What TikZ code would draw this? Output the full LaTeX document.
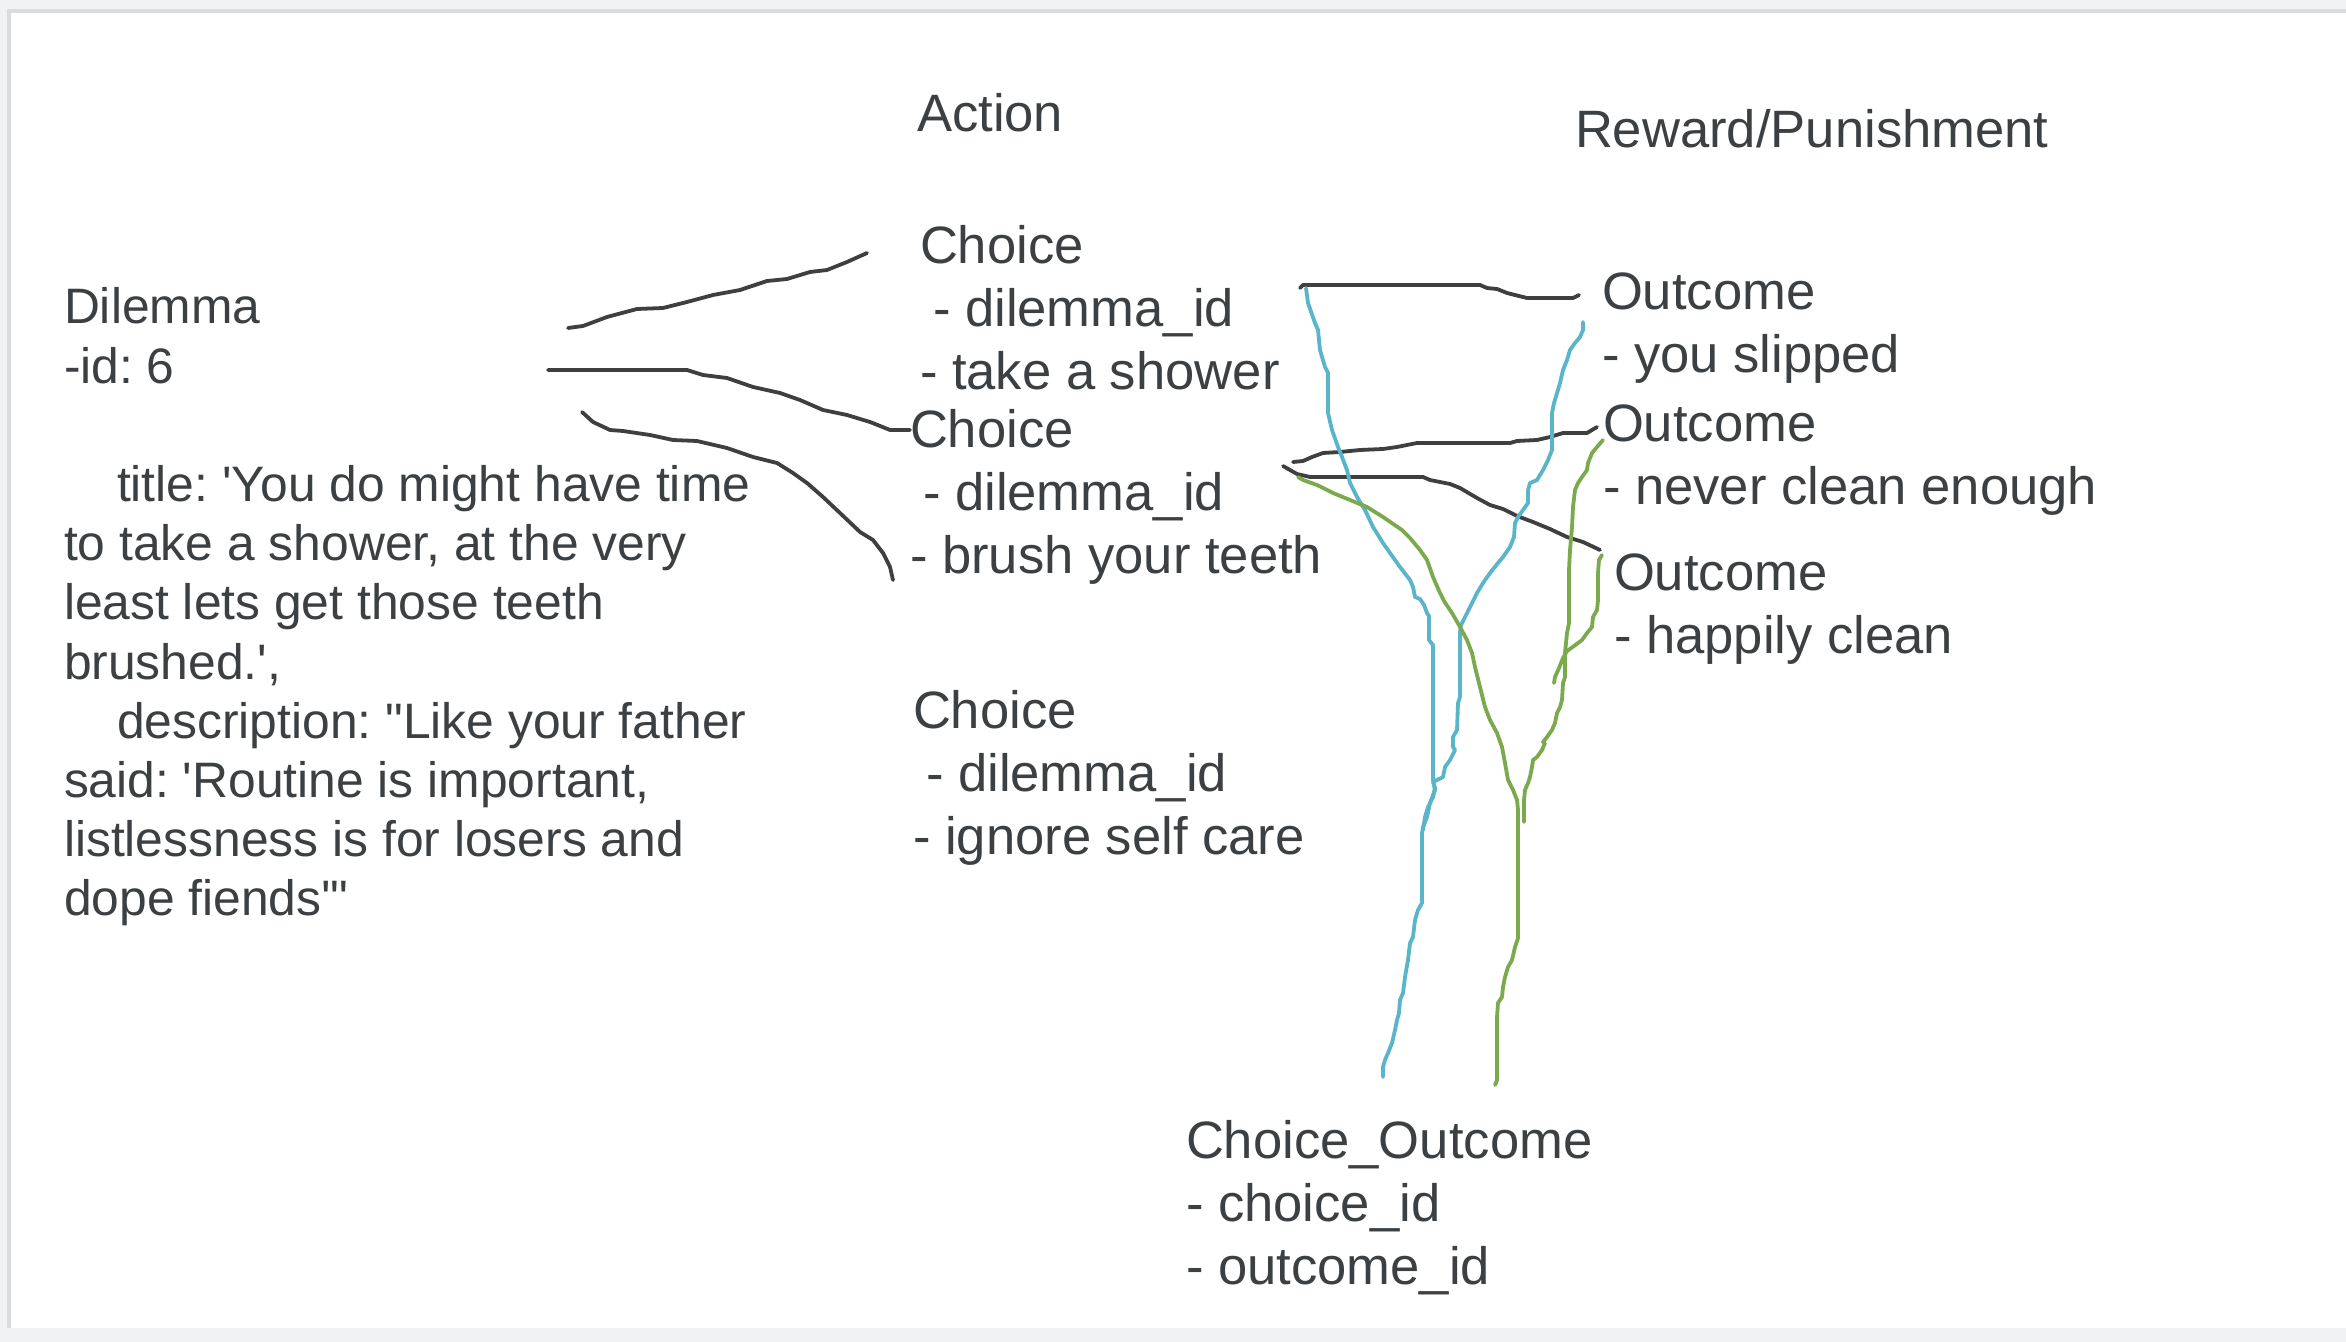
\documentclass[tikz,border=0pt]{standalone}
\usepackage{fontspec}
\newfontfamily\gd{Liberation Sans}
\frenchspacing
\definecolor{txt}{HTML}{3C4043}
\definecolor{ink}{HTML}{3F3F3F}
\definecolor{blu}{HTML}{5AB4CA}
\definecolor{grn}{HTML}{7BAA4E}
\definecolor{pagebg}{HTML}{F1F2F4}
\definecolor{edge}{HTML}{DADBDE}
\newcommand{\rowsA}[1]{{\gd\frenchspacing\fontsize{26.3}{31.5}\selectfont\begin{tabular}[t]{@{}l@{}}#1\end{tabular}}}
\newcommand{\rowsB}[1]{{\gd\frenchspacing\fontsize{24.9}{29.6}\selectfont\begin{tabular}[t]{@{}l@{}}#1\end{tabular}}}
\tikzset{
  lbl/.style={anchor=base west, inner sep=0pt, outer sep=0pt, text=txt, font=\gd\frenchspacing\fontsize{26.3}{31.5}\selectfont},
  inkline/.style={draw=ink, line width=1.9pt, line join=round, line cap=round},
  blueline/.style={draw=blu, line width=1.9pt, line join=round, line cap=round},
  greenline/.style={draw=grn, line width=1.9pt, line join=round, line cap=round}
}
\begin{document}
\begin{tikzpicture}[x=0.5pt,y=-0.5pt]
\useasboundingbox (0,0) rectangle (2346,1342);
\fill[pagebg] (0,0) rectangle (2346,1342);
\fill[edge] (7,9) rectangle (2346,1328);
\fill[white] (11,13) rectangle (2346,1328);

% headings
\node[lbl] (action) at (917,132) {Action};
\node[lbl] (reward) at (1575,148) {Reward/Punishment};

% dilemma
\node[lbl] (dilemma) at (64,324) {\rowsB{Dilemma\\
-id: 6\\
\\
\hspace*{26.5pt}title: \textquotesingle You do might have time\\
to take a shower, at the very\\
least lets get those teeth\\
brushed.\textquotesingle,\\
\hspace*{26.5pt}description: \textquotedbl Like your father\\
said: \textquotesingle Routine is important,\\
listlessness is for losers and\\
dope fiends\textquotesingle\textquotedbl}};

% choices
\node[lbl] (choice1) at (920,264) {\rowsA{Choice\\ \hspace*{6.5pt}- dilemma\_id\\ - take a shower}};
\node[lbl] (choice2) at (910,448) {\rowsA{Choice\\ \hspace*{6.5pt}- dilemma\_id\\ - brush your teeth}};
\node[lbl] (choice3) at (913,728) {\rowsA{Choice\\ \hspace*{6.5pt}- dilemma\_id\\ - ignore self care}};

% outcomes
\node[lbl] (outcome1) at (1602,310) {\rowsA{Outcome\\ - you slipped}};
\node[lbl] (outcome2) at (1603,442) {\rowsA{Outcome\\ - never clean enough}};
\node[lbl] (outcome3) at (1614,590) {\rowsA{Outcome\\ - happily clean}};

% join table
\node[lbl] (choiceoutcome) at (1186,1158) {\rowsA{Choice\_Outcome\\ - choice\_id\\ - outcome\_id}};

% dilemma -> choices
\draw[inkline] (568,328) -- (583,326) -- (607,317) -- (637,309) -- (663,308) -- (687,302) -- (713,295) -- (740,290) -- (767,281) -- (787,279) -- (810,272) -- (827,270) -- (847,262) -- (867,253);
\draw[inkline] (548,370) -- (687,370) -- (703,375) -- (727,378) -- (753,387) -- (780,393) -- (800,400) -- (823,410) -- (847,415) -- (870,422) -- (890,430) -- (910,430);
\draw[inkline] (582,412) -- (593,422) -- (610,430) -- (623,431) -- (650,435) -- (673,440) -- (697,441) -- (727,448) -- (753,457) -- (777,463) -- (793,473) -- (807,483) -- (823,497) -- (840,513) -- (860,532) -- (873,540) -- (883,553) -- (890,567) -- (893,580);

% choices -> outcomes
\draw[inkline] (1300,288) -- (1303,285) -- (1480,285) -- (1487,288) -- (1497,289) -- (1507,293) -- (1527,298) -- (1573,298) -- (1579,295);
\draw[inkline] (1293,462) -- (1303,461) -- (1312,457) -- (1323,453) -- (1340,452) -- (1360,450) -- (1383,449) -- (1397,447) -- (1417,443) -- (1510,443) -- (1517,441) -- (1537,440) -- (1550,437) -- (1563,433) -- (1587,433) -- (1597,427);
\draw[inkline] (1283,466) -- (1297,474) -- (1310,477) -- (1423,477) -- (1430,480) -- (1450,484) -- (1460,488) -- (1477,498) -- (1490,505) -- (1503,509) -- (1517,516) -- (1533,522) -- (1550,529) -- (1567,537) -- (1583,542) -- (1600,550);

% blue strokes
\draw[blueline] (1306,288) -- (1308,303) -- (1315,323) -- (1318,330) -- (1320,350) -- (1325,367) -- (1328,373) -- (1328,413) -- (1332,430) -- (1338,447) -- (1342,457) -- (1347,470) -- (1350,483) -- (1357,497) -- (1365,510) -- (1373,527) -- (1383,543) -- (1390,553) -- (1400,567) -- (1410,580) -- (1413,587) -- (1415,597) -- (1420,599) -- (1424,605) -- (1427,613) -- (1429,616) -- (1429,640) -- (1433,645) -- (1433,780) -- (1435,790) -- (1430,803) -- (1427,817) -- (1423,827) -- (1422,833) -- (1422,903) -- (1418,910) -- (1415,920) -- (1413,937) -- (1410,943) -- (1408,960) -- (1405,977) -- (1403,993) -- (1400,1000) -- (1399,1013) -- (1397,1020) -- (1395,1030) -- (1392,1043) -- (1388,1053) -- (1385,1060) -- (1383,1067) -- (1383,1077);
\draw[blueline] (1583,322) -- (1583,330) -- (1580,337) -- (1575,343) -- (1570,350) -- (1567,360) -- (1563,370) -- (1560,383) -- (1557,393) -- (1554,403) -- (1552,413) -- (1552,450) -- (1548,460) -- (1543,470) -- (1537,480) -- (1530,483) -- (1528,490) -- (1528,503) -- (1523,510) -- (1518,517) -- (1515,523) -- (1514,537) -- (1510,547) -- (1503,557) -- (1498,563) -- (1490,573) -- (1483,583) -- (1477,593) -- (1472,603) -- (1467,613) -- (1461,625) -- (1460,632) -- (1460,697) -- (1458,703) -- (1457,730) -- (1453,737) -- (1453,747) -- (1455,750) -- (1450,760) -- (1445,767) -- (1443,777) -- (1437,780) -- (1433,782) -- (1435,788) -- (1433,797) -- (1428,807) -- (1425,817) -- (1423,830);

% green strokes
\draw[greenline] (1298,477) -- (1303,480) -- (1317,485) -- (1333,493) -- (1350,500) -- (1367,507) -- (1383,517) -- (1402,530) -- (1410,538) -- (1420,550) -- (1427,560) -- (1433,577) -- (1440,593) -- (1444,601) -- (1452,613) -- (1460,627) -- (1467,640) -- (1472,653) -- (1475,667) -- (1480,687) -- (1485,707) -- (1490,720) -- (1497,733) -- (1502,747) -- (1505,763) -- (1508,780) -- (1513,790) -- (1517,800) -- (1518,810) -- (1518,938) -- (1515,947) -- (1512,960) -- (1508,967) -- (1505,977) -- (1503,987) -- (1502,997) -- (1498,1003) -- (1497,1017) -- (1497,1080) -- (1495,1085);
\draw[greenline] (1603,440) -- (1597,447) -- (1592,453) -- (1588,463) -- (1587,470) -- (1582,477) -- (1578,483) -- (1575,490) -- (1573,507) -- (1572,527) -- (1570,550) -- (1569,570) -- (1569,600) -- (1569,623) -- (1567,633) -- (1565,653) -- (1565,677) -- (1563,683) -- (1562,700) -- (1560,707) -- (1557,713) -- (1555,723) -- (1552,730) -- (1547,737) -- (1543,742) -- (1545,743) -- (1542,750) -- (1537,757) -- (1533,760) -- (1532,767) -- (1530,777) -- (1528,783) -- (1525,790) -- (1524,800) -- (1524,822);
\draw[greenline] (1602,555) -- (1599,560) -- (1598,573) -- (1598,600) -- (1597,610) -- (1593,617) -- (1592,627) -- (1587,633) -- (1582,640) -- (1574,646) -- (1567,651) -- (1563,658) -- (1559,668) -- (1555,677) -- (1554,683);
\end{tikzpicture}
\end{document}
